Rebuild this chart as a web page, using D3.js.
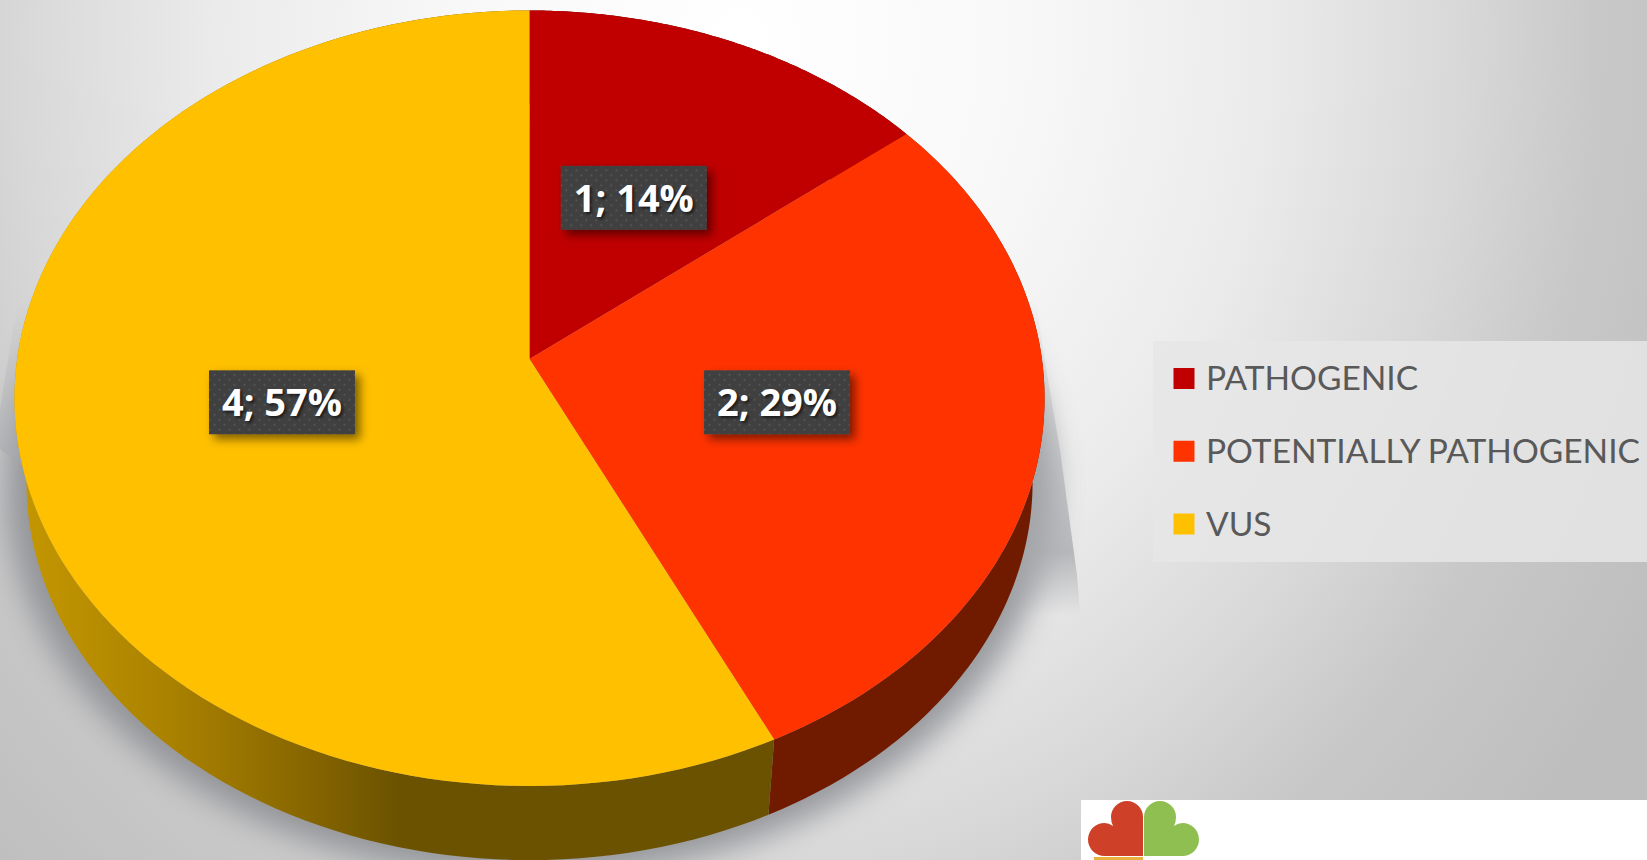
<!DOCTYPE html>
<html>
<head>
<meta charset="utf-8">
<script src="https://cdnjs.cloudflare.com/ajax/libs/d3/7.8.5/d3.min.js"></script>
<style>
  html, body { margin: 0; padding: 0; overflow: hidden; background: #e0e0e0; }
  svg { display: block; }
</style>
</head>
<body>
<svg id="chart"></svg>
<script>
// chart data
let categories = ['PATHOGENIC', 'POTENTIALLY PATHOGENIC', 'VUS']
let counts = [1, 2, 4]
let percents = ['14%', '29%', '57%']
let topColors = ['#c00000', '#ff3300', '#ffc000']

let width = 1647
let height = 860

let svg = d3.select('#chart').attr('width', width).attr('height', height)
let defs = svg.append('defs')

// --- background ---
let bg = defs.append('radialGradient').attr('id', 'bg')
  .attr('gradientUnits', 'userSpaceOnUse')
  .attr('cx', 0).attr('cy', 0).attr('r', 1)
  .attr('gradientTransform', 'translate(740,40) scale(1045,1200)')
bg.append('stop').attr('offset', '0').attr('stop-color', '#ffffff')
bg.append('stop').attr('offset', '0.27').attr('stop-color', '#f8f8f8')
bg.append('stop').attr('offset', '0.5').attr('stop-color', '#ebebeb')
bg.append('stop').attr('offset', '0.69').attr('stop-color', '#d8d8d8')
bg.append('stop').attr('offset', '0.82').attr('stop-color', '#c8c8c8')
bg.append('stop').attr('offset', '1').attr('stop-color', '#bebebe')
svg.append('rect').attr('width', width).attr('height', height).attr('fill', 'url(#bg)')

// --- tilted pie: a unit disc pushed through a perspective divide ---
let cx = 529.5, cy = 359, ax = 512.4, ay = 383.8, k = -0.1012
let project = (t, angle, a = ax, b = ay, oy = 0) => {
  let u = t * Math.sin(angle), v = -t * Math.cos(angle)
  let w = 1 + k * v
  return [cx + a * u / w, cy + oy + b * v / w]
}
let rim = (a0, a1, a = ax, b = ay, oy = 0) =>
  d3.range(0, 121).map(i => project(1, a0 + (a1 - a0) * i / 120, a, b, oy))

let pie = d3.pie().sort(null)(counts)
let line = d3.line()

// lower rim of the side wall
let sideA = 500.5, sideB = 374, sideY = 85

// soft shadow under the pie
defs.append('filter').attr('id', 'blur').attr('x', '-20%').attr('y', '-20%').attr('width', '140%').attr('height', '140%')
  .append('feGaussianBlur').attr('stdDeviation', 15)
svg.append('path')
  .attr('d', line(rim(0, 2 * Math.PI, sideA + 20, sideB + 12, sideY + 4)) + 'Z')
  .attr('fill', '#85878d').attr('opacity', 0.8).attr('filter', 'url(#blur)')

// hard edged wedge of shadow behind the disc, fades at both ends
let wedgePts = [[1036, 300], [1043, 350], [1060, 450], [1077, 575], [1083, 650], [cx, 820], [-6, 445], [18, 300]]
let wedgeGrad = defs.append('linearGradient').attr('id', 'wedgeGrad')
  .attr('gradientUnits', 'userSpaceOnUse').attr('x1', 0).attr('x2', 0).attr('y1', 300).attr('y2', 615)
wedgeGrad.append('stop').attr('offset', '0').attr('stop-color', '#a6a8ac').attr('stop-opacity', 0)
wedgeGrad.append('stop').attr('offset', '0.5').attr('stop-color', '#a6a8ac').attr('stop-opacity', 0.5)
wedgeGrad.append('stop').attr('offset', '0.8').attr('stop-color', '#a6a8ac').attr('stop-opacity', 0.75)
wedgeGrad.append('stop').attr('offset', '1').attr('stop-color', '#a6a8ac').attr('stop-opacity', 0)
svg.append('path').attr('d', line(wedgePts) + 'Z').attr('fill', 'url(#wedgeGrad)')

// side walls
let wallGrad = defs.append('linearGradient').attr('id', 'wall')
  .attr('gradientUnits', 'userSpaceOnUse').attr('x1', 20).attr('x2', 400).attr('y1', 0).attr('y2', 0)
wallGrad.append('stop').attr('offset', '0').attr('stop-color', '#c49700')
wallGrad.append('stop').attr('offset', '0.37').attr('stop-color', '#ac8300')
wallGrad.append('stop').attr('offset', '0.68').attr('stop-color', '#8f6c00')
wallGrad.append('stop').attr('offset', '1').attr('stop-color', '#6b5200')
let wallColors = ['#5e0000', '#701b00', 'url(#wall)']

svg.append('g').selectAll('path').data(pie).enter().append('path')
  .attr('d', d => {
    let up = rim(d.startAngle, d.endAngle)
    let down = rim(d.startAngle, d.endAngle, sideA, sideB, sideY).reverse()
    return line(up.concat(down)) + 'Z'
  })
  .attr('fill', (d, i) => wallColors[i])

// top face
svg.append('g').selectAll('path').data(pie).enter().append('path')
  .attr('d', d => line([[cx, cy]].concat(rim(d.startAngle, d.endAngle))) + 'Z')
  .attr('fill', (d, i) => topColors[i])

// --- data labels ---
let dots = defs.append('pattern').attr('id', 'dots').attr('patternUnits', 'userSpaceOnUse').attr('width', 10).attr('height', 10)
dots.append('rect').attr('width', 10).attr('height', 10).attr('fill', '#404040')
dots.append('circle').attr('cx', 2.5).attr('cy', 2.5).attr('r', 1).attr('fill', '#5a5a5a')
dots.append('circle').attr('cx', 7.5).attr('cy', 7.5).attr('r', 1).attr('fill', '#5a5a5a')

let shadowF = defs.append('filter').attr('id', 'boxShadow').attr('x', '-20%').attr('y', '-30%').attr('width', '150%').attr('height', '170%')
shadowF.append('feDropShadow').attr('dx', 5).attr('dy', 5).attr('stdDeviation', 5).attr('flood-color', '#000').attr('flood-opacity', 0.5)

let labels = svg.append('g').selectAll('g').data(pie).enter().append('g')
  .attr('transform', d => {
    let p = project(0.49, (d.startAngle + d.endAngle) / 2)
    return `translate(${p[0]},${p[1] + 1})`
  })
labels.append('rect')
  .attr('x', -73).attr('y', -32).attr('width', 146).attr('height', 64)
  .attr('fill', 'url(#dots)').attr('filter', 'url(#boxShadow)')
labels.append('text')
  .attr('text-anchor', 'middle').attr('y', 14)
  .attr('font-family', 'Open Sans, sans-serif').attr('font-weight', 700).attr('font-size', 38)
  .attr('fill', '#fff')
  .style('text-shadow', '2px 2px 3px rgba(0,0,0,0.6)')
  .text((d, i) => counts[i] + '; ' + percents[i])

// --- legend ---
let legendY = d3.scalePoint().domain(categories).range([378.5, 524])
svg.append('rect').attr('x', 1153).attr('y', 341).attr('width', 494).attr('height', 221)
  .attr('fill', '#e6e6e6').attr('opacity', 0.85)
let legend = svg.append('g').selectAll('g').data(categories).enter().append('g')
  .attr('transform', d => `translate(1173.5,${legendY(d)})`)
legend.append('rect').attr('y', -10.5).attr('width', 21).attr('height', 21)
  .attr('fill', (d, i) => topColors[i])
legend.append('text').attr('x', 32.5).attr('y', 11.5)
  .attr('font-family', 'Lato, sans-serif').attr('font-size', 33.5).attr('fill', '#595959')
  .text(d => d)

// --- logo corner ---
svg.append('rect').attr('x', 1081).attr('y', 800).attr('width', 566).attr('height', 60).attr('fill', '#fff')
let lobe = 'M-0.5 56 V17 A16 16 0 0 0 -32.5 17 Q-32.5 22 -30.5 26 Q-34.5 23 -39 23 A16.5 16.5 0 0 0 -39 56 Z'
let logo = svg.append('g').attr('transform', 'translate(1143.5,800)')
logo.append('path').attr('d', lobe).attr('fill', '#cf4028')
logo.append('path').attr('d', lobe).attr('fill', '#8fbf50').attr('transform', 'scale(-1,1)')
logo.append('rect').attr('x', -49.5).attr('y', 57).attr('width', 49).attr('height', 3).attr('fill', '#e8b040')
</script>
</body>
</html>
